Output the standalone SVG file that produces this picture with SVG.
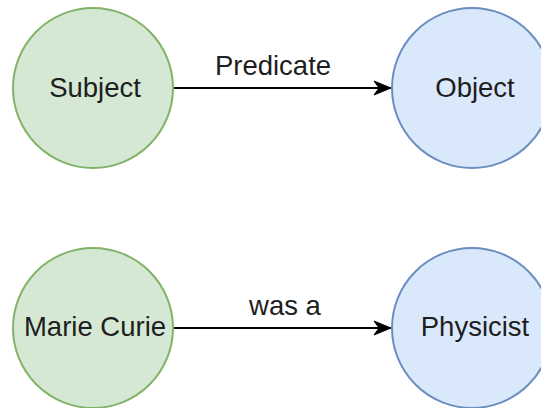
<svg xmlns="http://www.w3.org/2000/svg" width="541" height="408" viewBox="0 0 541 408">
<style>
.t{font-family:"Liberation Sans",Arial,Helvetica,sans-serif;font-size:27.5px;fill:#1e1e1e;text-anchor:middle}
.g{fill:#d5e8d4;stroke:#82b366;stroke-width:2}
.b{fill:#dae8fc;stroke:#6c8ebf;stroke-width:2}
.e{stroke:#000;stroke-width:2;fill:none}
</style>
<defs>
<marker id="arr" markerUnits="userSpaceOnUse" markerWidth="20" markerHeight="16" refX="18" refY="8" orient="auto">
<path d="M1,1 L18,8 L1,15 L6,8 Z" fill="#000" stroke="#000" stroke-width="1"/>
</marker>
</defs>
<rect width="541" height="408" fill="#fff"/>
<g id="connectors">
<path class="e" d="M174,88 L391,88" marker-end="url(#arr)"/>
<path class="e" d="M174,328 L391,328" marker-end="url(#arr)"/>
<text class="t" x="273" y="75">Predicate</text>
<text class="t" x="285" y="315">was a</text>
</g>
<g id="subject"><circle class="g" cx="93" cy="88" r="80"/><text class="t" x="95" y="97">Subject</text></g>
<g id="object"><circle class="b" cx="472" cy="88" r="80"/><text class="t" x="475" y="97">Object</text></g>
<g id="marie"><circle class="g" cx="93" cy="328" r="80"/><text class="t" x="95" y="336">Marie Curie</text></g>
<g id="physicist"><circle class="b" cx="472" cy="328" r="80"/><text class="t" x="475" y="336">Physicist</text></g>
</svg>
